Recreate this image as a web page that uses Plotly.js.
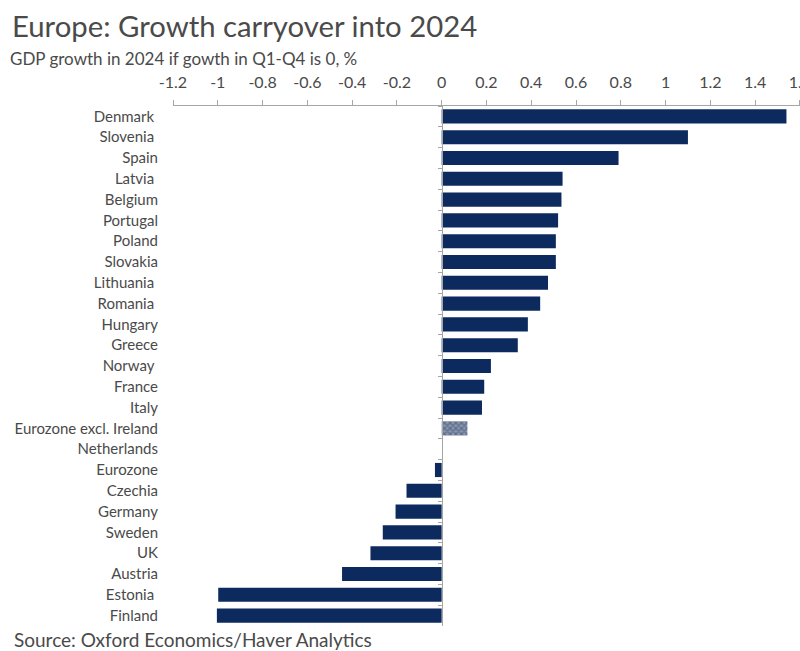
<!DOCTYPE html>
<html>
<head>
<meta charset="utf-8">
<script src="https://cdn.plot.ly/plotly-3.0.1.min.js"></script>
<style>html,body{margin:0;padding:0;background:#fff;}#chart{width:800px;height:651px;}</style>
</head>
<body>
<div id="chart"></div>
<script>
const countries = ["Denmark\u00a0", "Slovenia\u00a0", "Spain", "Latvia\u00a0", "Belgium", "Portugal", "Poland", "Slovakia", "Lithuania\u00a0", "Romania\u00a0", "Hungary", "Greece", "Norway\u00a0", "France", "Italy", "Eurozone excl. Ireland", "Netherlands", "Eurozone", "Czechia", "Germany", "Sweden", "UK", "Austria", "Estonia\u00a0", "Finland"];
const carryover = [1.54, 1.10, 0.79, 0.54, 0.535, 0.52, 0.51, 0.51, 0.475, 0.44, 0.385, 0.34, 0.22, 0.19, 0.18, 0.115, 0, -0.03, -0.157, -0.206, -0.263, -0.318, -0.445, -0.998, -1.004];
const xTicks = [-1.2, -1, -0.8, -0.6, -0.4, -0.2, 0, 0.2, 0.4, 0.6, 0.8, 1, 1.2, 1.4, 1.6];
const hatched = "Eurozone excl. Ireland";

const navy = "#0c2a5e";
const txt = "#4a4a4a";
const font = "Lato, 'Noto Sans', sans-serif";

const shapes = countries.map(c => c === hatched ? "x" : "");
const baseCol = countries.map(c => c === hatched ? "#8497ba" : navy);

const traces = [
  {
    type: "bar", orientation: "h",
    x: carryover, y: countries,
    marker: {color: baseCol, line: {width: 0},
      pattern: {shape: shapes, fillmode: "overlay", fgcolor: navy, size: 4, solidity: 0.55}},
    hoverinfo: "x+y"
  },
  {
    type: "scatter", mode: "none", x: carryover, y: countries,
    yaxis: "y2", hoverinfo: "skip", showlegend: false
  }
];

const yRange = [countries.length - 0.5, -0.5];

const layout = {
  width: 800, height: 651,
  margin: {l: 173, r: 0, t: 106, b: 25, pad: 0, autoexpand: false},
  paper_bgcolor: "#fff", plot_bgcolor: "#fff",
  showlegend: false,
  bargap: 0.32,
  font: {family: font, color: txt, size: 15},
  xaxis: {
    side: "top", range: [-1.2, 1.6005], tickvals: xTicks, ticktext: xTicks.map(String),
    showgrid: false, zeroline: false, showline: true, linecolor: "#a6a6a6", linewidth: 1,
    ticks: "outside", ticklen: 5, tickcolor: "#a6a6a6",
    ticklabelstandoff: 6, ticklabeloverflow: "allow",
    tickfont: {family: font, size: 16, color: txt}
  },
  yaxis: {
    type: "category", range: yRange, showgrid: false, zeroline: false,
    showline: false, ticks: "", ticklabelstandoff: 14,
    tickfont: {family: font, size: 15, color: txt}
  },
  yaxis2: {
    type: "category", overlaying: "y", matches: "y", range: yRange, anchor: "free", position: 1.2 / 2.8,
    showgrid: false, zeroline: false, showline: true, linecolor: "#a6a6a6", linewidth: 1,
    ticks: "outside", tickson: "boundaries", ticklen: 4, tickcolor: "#a6a6a6",
    showticklabels: false
  },
  title: {
    text: "Europe: Growth carryover into 2024",
    x: 0, xref: "container", xanchor: "left", y: 1 - 27 / 651, yref: "container", yanchor: "middle",
    pad: {l: 12},
    font: {family: font, size: 29.3, color: txt}
  },
  annotations: [
    {text: "GDP growth in 2024 if gowth in Q1-Q4 is 0, %", xref: "paper", yref: "paper",
     x: -165/627, y: 1, yshift: 48, xanchor: "left", yanchor: "middle", showarrow: false,
     font: {family: font, size: 17, color: txt}},
    {text: "Source: Oxford Economics/Haver Analytics", xref: "paper", yref: "paper",
     x: -161/627, y: 0, yshift: -13, xanchor: "left", yanchor: "middle", showarrow: false,
     font: {family: font, size: 19, color: txt}}
  ]
};

Plotly.newPlot("chart", traces, layout, {displayModeBar: false, staticPlot: true});
</script>
</body>
</html>
